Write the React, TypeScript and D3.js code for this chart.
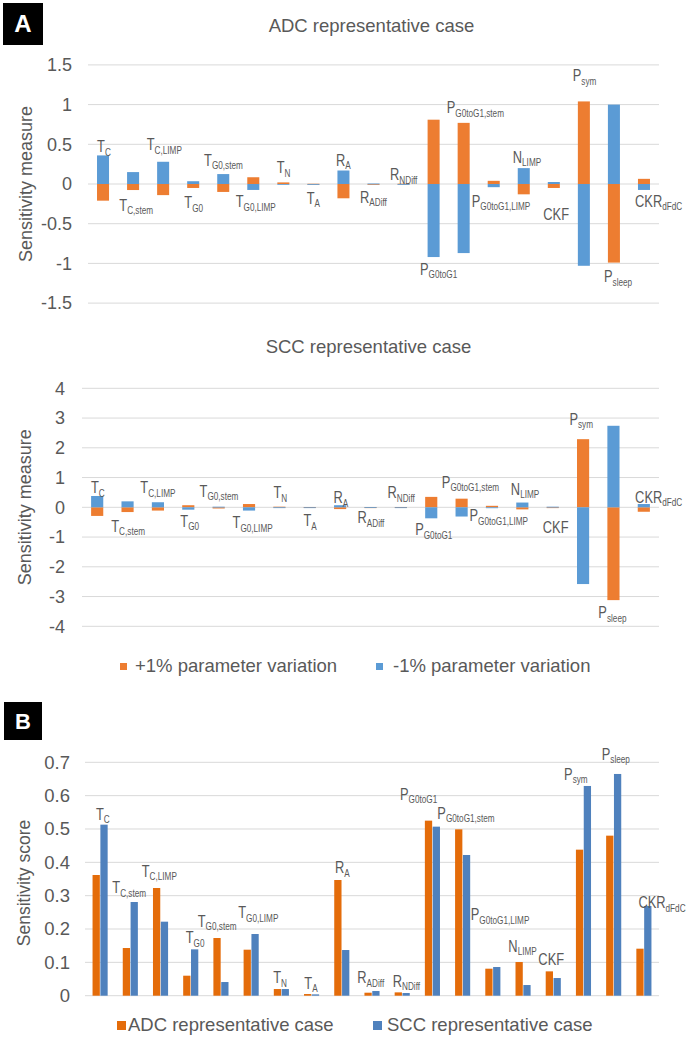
import React from 'react';
import * as d3 from 'd3';

// ---------- DATA ----------
const paramMain = ['T','T','T','T','T','T','T','T','R','R','R','P','P','P','N','CKF','P','P','CKR'];
const paramSub = ['C','C,stem','C,LIMP','G0','G0,stem','G0,LIMP','N','A','A','ADiff','NDiff','G0toG1','G0toG1,stem','G0toG1,LIMP','LIMP','','sym','sleep','dFdC'];

// Panel A, ADC representative case
const adcPlus = [-0.21,-0.076,-0.14,-0.05,-0.10,0.085,0.02,0.003,-0.18,-0.008,0.004,0.81,0.77,0.04,-0.13,-0.05,1.04,-0.99,0.065];
const adcMinus = [0.36,0.15,0.28,0.035,0.125,-0.075,-0.005,-0.003,0.17,0.006,-0.003,-0.92,-0.87,-0.04,0.20,0.025,-1.03,1.0,-0.075];
// Panel A, SCC representative case
const sccPlus = [-0.29,-0.16,-0.11,0.07,-0.04,0.11,0.02,0.004,-0.06,-0.005,0.004,0.35,0.29,0.05,-0.07,-0.01,2.29,-3.12,-0.15];
const sccMinus = [0.38,0.20,0.17,-0.08,0.02,-0.11,-0.01,-0.004,0.07,0.004,-0.004,-0.37,-0.31,-0.03,0.16,0.02,-2.58,2.74,0.11];
// Panel B, sensitivity score
const scoreADC = [0.362,0.143,0.323,0.06,0.173,0.138,0.02,0.005,0.347,0.009,0.01,0.525,0.499,0.081,0.101,0.073,0.438,0.48,0.141];
const scoreSCC = [0.513,0.281,0.222,0.139,0.041,0.185,0.02,0.004,0.137,0.014,0.008,0.507,0.422,0.086,0.032,0.053,0.629,0.665,0.269];

const adcTicks = [-1.5,-1,-0.5,0,0.5,1,1.5];
const adcTickLabels = ['-1.5','-1','-0.5','0','0.5','1','1.5'];
const sccTicks = [-4,-3,-2,-1,0,1,2,3,4];
const sccTickLabels = ['-4','-3','-2','-1','0','1','2','3','4'];
const scoreTicks = [0,0.1,0.2,0.3,0.4,0.5,0.6,0.7];
const scoreTickLabels = ['0','0.1','0.2','0.3','0.4','0.5','0.6','0.7'];

const legendA = ['+1% parameter variation','-1% parameter variation'];
const legendB = ['ADC representative case','SCC representative case'];

// ---------- LAYOUT (label placement: side, dx, gap) ----------
const adcLabelLayout: [string, number, number][] = [
  ['up',-6,3],['down',-13.8,20.7],['up',-16.4,11.3],['down',-8.9,20.3],['up',-19.2,8.3],
  ['down',-17.6,17.3],['up',-6.6,9.4],['down',-6.7,19.7],['up',-7.4,4.6],['down',-13.5,18],
  ['up',-13.5,3.5],['down',-13.6,17.7],['up',-16.9,9.4],['down',-22,19.7],['up',-11,5.3],
  ['down',-10.5,31.6],['up',-11.1,20],['down',-9.9,19.4],['down',-8.9,16.7],
];
const sccLabelLayout: [string, number, number][] = [
  ['up',-6.2,2.7],['down',-16.3,19.7],['up',-17.6,9],['down',-8,17],['up',-19.1,10],
  ['down',-16.5,17.6],['up',-5.9,8.4],['down',-6.3,19],['up',-6.6,2],['down',-13,16],
  ['up',-13.4,9],['down',-16.1,16.7],['up',-19.8,11],['down',-22.5,13.2],['up',-11.5,7.7],
  ['down',-9.9,25],['up',-13.7,14.3],['down',-15.1,18.3],['up',-8.7,1.3],
];
const scoreLabelLayout: [number, number][] = [
  [-4.1,4.7],[-18,8.7],[-18.8,11.3],[-5,6],[-23.2,11.3],[-12.9,15.7],[-8.1,5.7],[-7.3,5.3],
  [-6.8,6.7],[-14.7,7.7],[-9.5,5.7],[-32.4,20.7],[-25.3,10.4],[-22.1,47],[-14.7,10.3],
  [-14.9,6.4],[-19.4,6],[-11.9,14],[-5.5,-2.3],
];

const FONT = "'Liberation Sans', Arial, sans-serif";
const TXT = '#595959';
const GRID = '#D9D9D9';
const A_ORANGE = '#ED7D31';
const A_BLUE = '#5B9BD5';
const B_ORANGE = '#E46C0A';
const B_BLUE = '#4F81BD';

function ParamLabel({ i, x, y }: { i: number; x: number; y: number }) {
  return (
    <g transform={`translate(${x},${y}) scale(0.78,1)`}>
      <text x={0} y={0} fontFamily={FONT} fontSize={16.5} fill={TXT}>
        {paramMain[i]}
        {paramSub[i] ? (
          <tspan fontSize={10.5} dy={3.5}>{paramSub[i]}</tspan>
        ) : null}
      </text>
    </g>
  );
}

function YAxis({ y, ticks, labels, x0, x1, labelX, fontSize }: any) {
  return (
    <g>
      {ticks.map((t: number, k: number) => (
        <g key={k}>
          <line x1={x0} x2={x1} y1={y(t)} y2={y(t)} stroke={GRID} strokeWidth={1} />
          <text x={labelX} y={y(t)} dy="0.35em" textAnchor="end" fontFamily={FONT} fontSize={fontSize} fill={TXT}>
            {labels[k]}
          </text>
        </g>
      ))}
    </g>
  );
}

function DivergingChart({ plus, minus, ticks, tickLabels, domain, yTop, yBottom, x0, x1, labelX, title, titleY, layout, axisTitleX }: any) {
  const n = paramMain.length;
  const x = d3.scaleBand<number>().domain(d3.range(n)).range([x0, x1]).paddingInner(0.6).paddingOuter(0.3);
  const y = d3.scaleLinear().domain(domain).range([yBottom, yTop]);
  const rows = d3.range(n).map((i) => ({ plus: plus[i], minus: minus[i] }));
  const series = d3.stack<any>().keys(['plus', 'minus']).offset(d3.stackOffsetDiverging)(rows);
  const colors: Record<string, string> = { plus: A_ORANGE, minus: A_BLUE };
  const yMid = (y(domain[0]) + y(domain[1])) / 2;
  return (
    <g>
      <text x={(x0 + x1) / 2 - 2} y={titleY} textAnchor="middle" fontFamily={FONT} fontSize={18.5} fill={TXT}>{title}</text>
      <YAxis y={y} ticks={ticks} labels={tickLabels} x0={x0} x1={x1} labelX={labelX} fontSize={18} />
      <text transform={`translate(${axisTitleX},${yMid}) rotate(-90)`} textAnchor="middle" dy="0.35em" fontFamily={FONT} fontSize={18} fill={TXT}>Sensitivity measure</text>
      {series.map((s: any) => (
        <g key={s.key} fill={colors[s.key]}>
          {s.map((d: any, i: number) => {
            const top = y(Math.max(d[0], d[1]));
            const bot = y(Math.min(d[0], d[1]));
            return <rect key={i} x={x(i)!} width={x.bandwidth()} y={top} height={Math.max(0.8, bot - top)} />;
          })}
        </g>
      ))}
      {d3.range(n).map((i) => {
        const [side, dx, gap] = layout[i];
        const cx = x(i)! + x.bandwidth() / 2;
        const hi = Math.max(0, plus[i], minus[i]);
        const lo = Math.min(0, plus[i], minus[i]);
        const ly = side === 'up' ? y(hi) - gap : y(lo) + gap;
        return <ParamLabel key={i} i={i} x={cx + dx} y={ly} />;
      })}
    </g>
  );
}

function ScoreChart() {
  const n = paramMain.length;
  const x0 = 85, x1 = 659;
  const x = d3.scaleBand<number>().domain(d3.range(n)).range([x0, x1]).paddingInner(0.5).paddingOuter(0.25);
  const xs = d3.scaleBand<string>().domain(['adc', 'scc']).range([0, x.bandwidth()]).paddingInner(0.07);
  const y = d3.scaleLinear().domain([0, 0.7]).range([995.7, 762.3]);
  return (
    <g>
      <YAxis y={y} ticks={scoreTicks} labels={scoreTickLabels} x0={x0} x1={x1} labelX={70} fontSize={18.5} />
      <text transform={`translate(24,${(y(0) + y(0.7)) / 2 + 4}) rotate(-90)`} textAnchor="middle" dy="0.35em" fontFamily={FONT} fontSize={17.5} fill={TXT}>Sensitivity score</text>
      {d3.range(n).map((i) => (
        <g key={i}>
          <rect x={x(i)! + xs('adc')!} width={xs.bandwidth()} y={y(scoreADC[i])} height={y(0) - y(scoreADC[i])} fill={B_ORANGE} />
          <rect x={x(i)! + xs('scc')!} width={xs.bandwidth()} y={y(scoreSCC[i])} height={y(0) - y(scoreSCC[i])} fill={B_BLUE} />
        </g>
      ))}
      {d3.range(n).map((i) => {
        const [dx, gap] = scoreLabelLayout[i];
        const cx = x(i)! + x.bandwidth() / 2;
        const ly = y(Math.max(scoreADC[i], scoreSCC[i])) - gap;
        return <ParamLabel key={i} i={i} x={cx + dx} y={ly} />;
      })}
    </g>
  );
}

export default function App() {
  React.useEffect(() => {
    document.body.style.margin = '0';
    document.body.style.overflow = 'hidden';
  }, []);
  return (
    <div style={{ position: 'absolute', left: 0, top: 0 }}>
      <svg width={688} height={1046} style={{ display: 'block', background: '#fff' }}>
        <rect x={0} y={0} width={688} height={1046} fill="#fff" />
        {/* Panel A badge */}
        <rect x={3} y={3} width={40} height={42} fill="#000" />
        <text x={23} y={24} dy="0.35em" textAnchor="middle" fontFamily={FONT} fontWeight="bold" fontSize={24} fill="#fff">A</text>

        <DivergingChart plus={adcPlus} minus={adcMinus} ticks={adcTicks} tickLabels={adcTickLabels}
          domain={[-1.5, 1.5]} yTop={64.9} yBottom={303.1} x0={88} x1={659} labelX={72}
          title="ADC representative case" titleY={32} layout={adcLabelLayout} axisTitleX={26} />

        <DivergingChart plus={sccPlus} minus={sccMinus} ticks={sccTicks} tickLabels={sccTickLabels}
          domain={[-4, 4]} yTop={388.3} yBottom={626.3} x0={82} x1={659} labelX={65}
          title="SCC representative case" titleY={353} layout={sccLabelLayout} axisTitleX={25} />

        {/* Legend A */}
        <rect x={120} y={663} width={7} height={7} fill={A_ORANGE} />
        <text x={135} y={672} fontFamily={FONT} fontSize={18.5} fill={TXT}>{legendA[0]}</text>
        <rect x={376} y={663} width={7} height={7} fill={A_BLUE} />
        <text x={393} y={672} fontFamily={FONT} fontSize={18.5} fill={TXT}>{legendA[1]}</text>

        {/* Panel B badge */}
        <rect x={4} y={702} width={38} height={38} fill="#000" />
        <text x={23} y={721} dy="0.35em" textAnchor="middle" fontFamily={FONT} fontWeight="bold" fontSize={22} fill="#fff">B</text>

        <ScoreChart />

        {/* Legend B */}
        <rect x={117} y={1021} width={9} height={9} fill={B_ORANGE} />
        <text x={128} y={1031} fontFamily={FONT} fontSize={18.5} fill={TXT}>{legendB[0]}</text>
        <rect x={373} y={1021} width={9} height={9} fill={B_BLUE} />
        <text x={387} y={1031} fontFamily={FONT} fontSize={18.5} fill={TXT}>{legendB[1]}</text>
      </svg>
    </div>
  );
}
